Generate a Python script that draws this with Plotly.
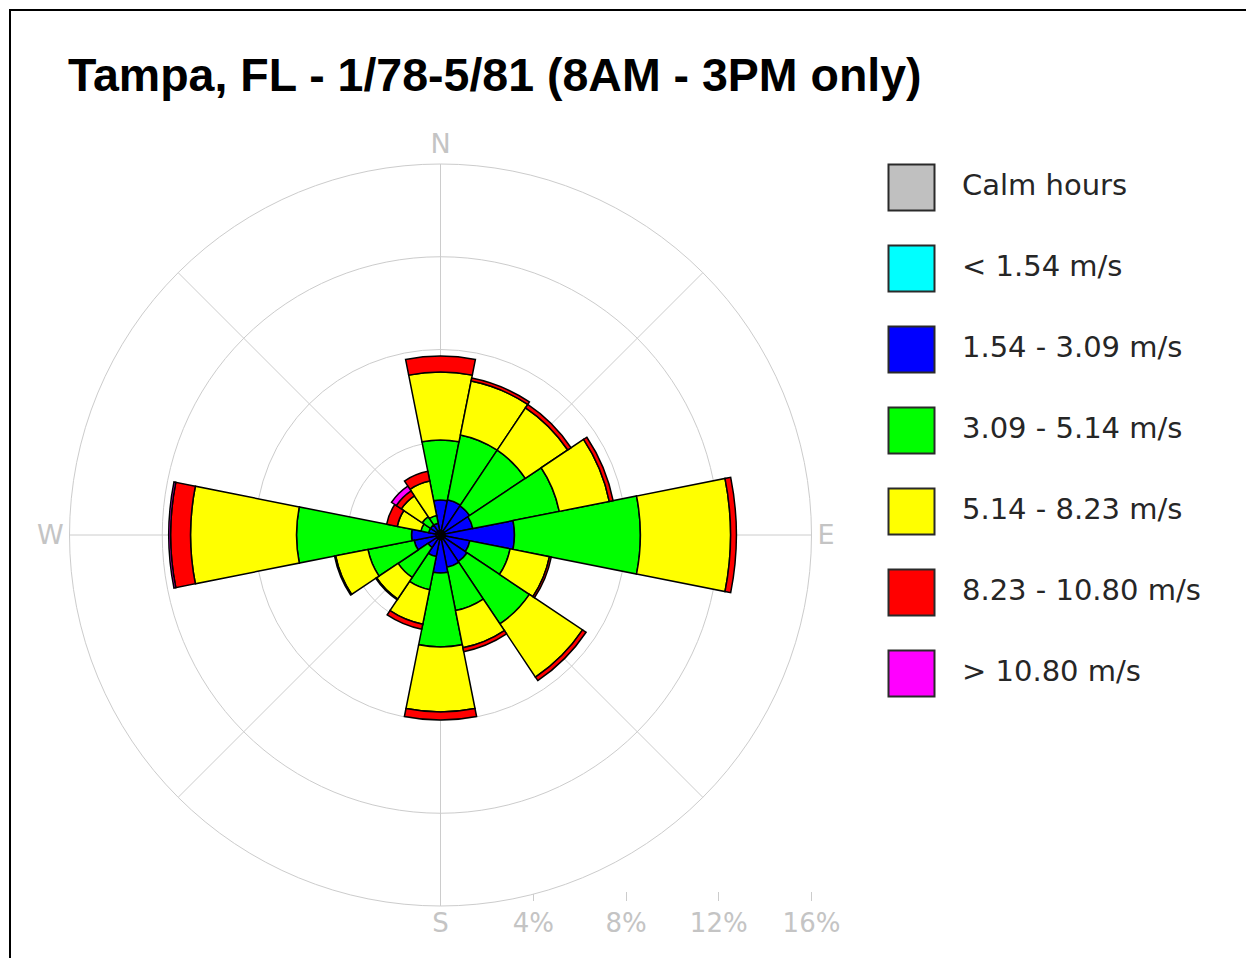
import plotly.graph_objects as go

# ---------------- data ----------------
directions = ["N", "NNE", "NE", "ENE", "E", "ESE", "SE", "SSE",
              "S", "SSW", "SW", "WSW", "W", "WNW", "NW", "NNW"]

speed_classes = ["< 1.54 m/s", "1.54 - 3.09 m/s", "3.09 - 5.14 m/s",
                 "5.14 - 8.23 m/s", "8.23 - 10.80 m/s", "> 10.80 m/s"]

# percent of hours per direction for each speed class
cyan_vals = [0.20, 0.20, 0.20, 0.20, 0.20, 0.20, 0.20, 0.20,
             0.20, 0.20, 0.20, 0.20, 0.20, 0.20, 0.20, 0.20]
blue_vals = [1.31, 1.35, 1.31, 1.22, 2.99, 1.09, 1.18, 1.22,
             1.44, 0.75, 0.45, 0.96, 1.05, 0.32, 0.32, 0.32]
green_vals = [2.59, 2.85, 2.89, 3.80, 5.43, 1.77, 3.23, 1.90,
              3.19, 1.46, 1.55, 2.03, 4.96, 0.34, 0.43, 0.34]
yellow_vals = [2.93, 2.37, 2.20, 2.20, 3.89, 1.73, 2.76, 1.64,
               2.80, 1.51, 1.12, 1.42, 4.57, 1.04, 1.08, 1.51]
red_vals = [0.69, 0.13, 0.17, 0.17, 0.25, 0.08, 0.18, 0.17,
            0.35, 0.22, 0.04, 0.05, 0.86, 0.47, 0.26, 0.43]
magenta_vals = [0.00, 0.00, 0.00, 0.00, 0.00, 0.00, 0.00, 0.00,
                0.00, 0.00, 0.00, 0.00, 0.08, 0.00, 0.25, 0.00]

series = [cyan_vals, blue_vals, green_vals, yellow_vals, red_vals, magenta_vals]

legend_labels = ["Calm hours"] + speed_classes

radial_ticks = [4, 8, 12, 16]
radial_max = 16
compass_labels = ["N", "", "E", "", "", "", "W", ""]   # S is drawn on the bottom scale row
south_label = "S"

title_text = "Tampa, FL - 1/78-5/81 (8AM - 3PM only)"

# ---------------- styles ----------------
class_colors = ["#00ffff", "#0000ff", "#00ff00", "#ffff00", "#ff0000", "#ff00ff"]
calm_color = "#c0c0c0"
grid_color = "#cccccc"
label_color = "#c4c4c4"
W, H = 1246, 958

# polar geometry (pixels)
cx, cy, rad = 440.5, 535.0, 371.0

theta = [i * 360.0 / len(directions) for i in range(len(directions))]

fig = go.Figure()

for name, vals, col in zip(speed_classes, series, class_colors):
    fig.add_trace(go.Barpolar(
        r=vals, theta=theta, name=name,
        marker=dict(color=col, line=dict(color="#000000", width=1.5)),
        showlegend=False, hovertext=directions,
    ))

# helper trace so the bottom percent axis is drawn
fig.add_trace(go.Scatter(x=[-radial_max, radial_max], y=[0, 0], mode="markers",
                         marker=dict(opacity=0), hoverinfo="skip",
                         showlegend=False, xaxis="x", yaxis="y"))

# custom legend: big squares + labels
legend_colors = [calm_color] + class_colors
fig.add_trace(go.Scatter(
    x=[0] * len(legend_labels), y=legend_labels, mode="markers",
    marker=dict(symbol="square", size=46, color=legend_colors,
                line=dict(color="#2a2a2a", width=2)),
    hoverinfo="skip", showlegend=False, xaxis="x2", yaxis="y2"))
fig.add_trace(go.Scatter(
    x=[50.5] * len(legend_labels), y=legend_labels, mode="text",
    text=legend_labels, textposition="middle right",
    textfont=dict(family="DejaVu Sans", size=29, color="#262626"),
    hoverinfo="skip", showlegend=False, xaxis="x2", yaxis="y2"))

xdom = [(cx - rad) / W, (cx + rad) / W]
ydom = [(H - (cy + rad)) / H, (H - (cy - rad)) / H]

leg_left = 872.0
leg_x0 = 911.5
leg_top, leg_bottom = 147.0, 714.0

fig.update_layout(
    width=W, height=H,
    margin=dict(l=0, r=0, t=0, b=0, pad=0, autoexpand=False),
    paper_bgcolor="white", plot_bgcolor="white",
    title=dict(text=title_text, x=68 / W, xanchor="left",
               y=(H - 75) / H, yanchor="middle", xref="paper", yref="paper",
               font=dict(family="Liberation Sans, Arial", size=46.5,
                         color="#000000", weight="bold")),
    polar=dict(
        domain=dict(x=xdom, y=ydom),
        bgcolor="white",
        bargap=0,
        barmode="stack",
        angularaxis=dict(rotation=90, direction="clockwise",
                         tickmode="array",
                         tickvals=[0, 45, 90, 135, 180, 225, 270, 315],
                         ticktext=compass_labels, ticks="",
                         showline=True, linecolor=grid_color, linewidth=1,
                         gridcolor=grid_color, gridwidth=1,
                         tickfont=dict(family="DejaVu Sans", size=27,
                                       color=label_color)),
        radialaxis=dict(range=[0, radial_max], tickvals=radial_ticks,
                        showticklabels=False, ticks="", showline=False,
                        gridcolor=grid_color, gridwidth=1),
    ),
    xaxis=dict(domain=xdom, range=[-radial_max, radial_max],
               tickmode="array", tickvals=[0] + radial_ticks,
               ticktext=[south_label] + [f"{t}%" for t in radial_ticks],
               ticks="outside", ticklen=9, tickcolor=grid_color, tickwidth=1,
               showline=False, showgrid=False, zeroline=False,
               anchor="free", position=(H - 891) / H, automargin=False,
               tickfont=dict(family="DejaVu Sans", size=26, color=label_color),
               fixedrange=True),
    yaxis=dict(domain=[0, 0.01], visible=False, fixedrange=True),
    xaxis2=dict(domain=[leg_left / W, 1.0],
                range=[-(leg_x0 - leg_left), W - leg_x0],
                visible=False, fixedrange=True),
    yaxis2=dict(domain=[(H - leg_bottom) / H, (H - leg_top) / H],
                type="category", categoryorder="array",
                categoryarray=legend_labels,
                range=[len(legend_labels) - 0.5, -0.5],
                visible=False, fixedrange=True, anchor="x2"),
    shapes=[dict(type="rect", xref="paper", yref="paper",
                 x0=10 / W, x1=1.1, y0=-0.1, y1=(H - 10) / H,
                 line=dict(color="#000000", width=2), layer="above")],
)

fig.write_html("out.html", config={"displayModeBar": False},
               post_script="document.body.style.margin='0';")
